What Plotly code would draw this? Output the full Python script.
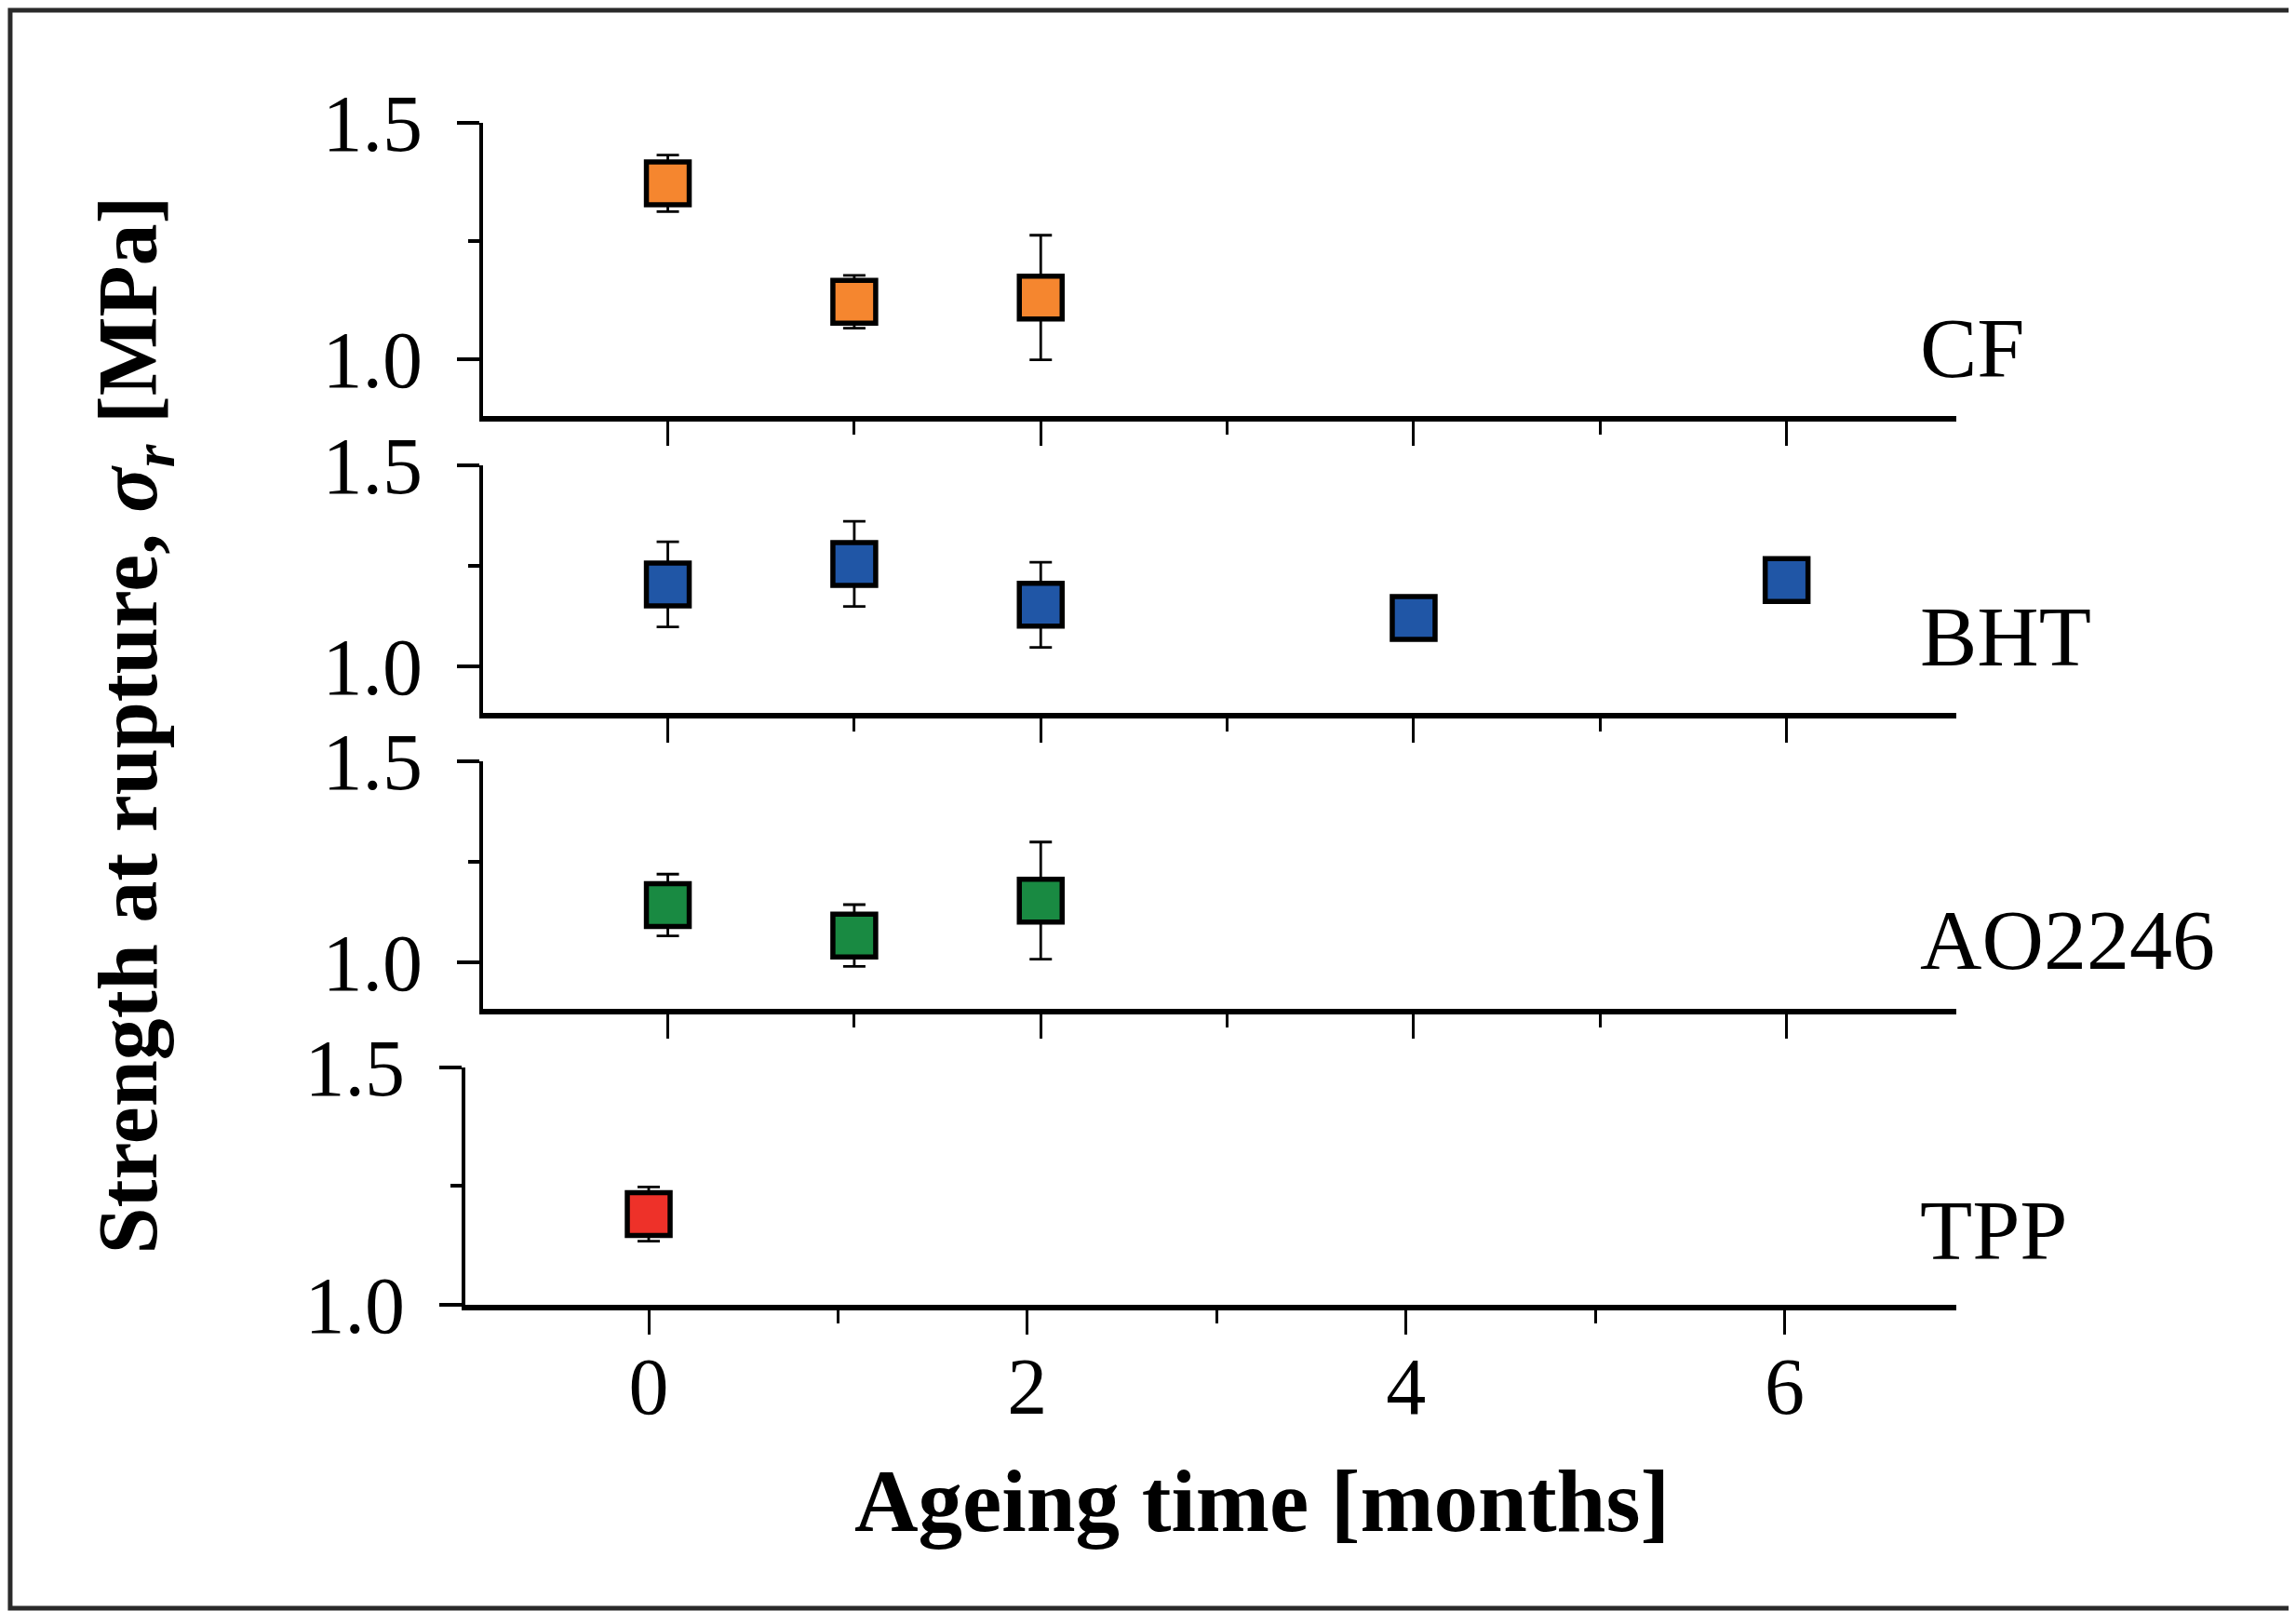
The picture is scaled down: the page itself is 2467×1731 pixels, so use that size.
import plotly.graph_objects as go

# values
cf_months = [0, 1, 2]
cf_strength = [1.372, 1.121, 1.130]
cf_error = [0.060, 0.056, 0.132]

bht_months = [0, 1, 2, 4, 6]
bht_strength = [1.204, 1.255, 1.153, 1.120, 1.215]
bht_error = [0.106, 0.106, 0.106, 0.015, 0.015]

ao_months = [0, 1, 2]
ao_strength = [1.142, 1.066, 1.153]
ao_error = [0.077, 0.077, 0.146]

tpp_months = [0]
tpp_strength = [1.191]
tpp_error = [0.057]

series_names = ["CF", "BHT", "AO2246", "TPP"]
x_tick_vals = [0, 2, 4, 6]
x_tick_labels = ["0", "2", "4", "6"]
y_tick_vals = [1.0, 1.5]
y_tick_labels = ["1.0", "1.5"]

COLORS = ["#F5862F", "#2056A6", "#198A42", "#EE3129"]
FONT = "Liberation Serif"
W, H = 2467, 1731
OFF = 8  # page body margin, the figure starts 8px in
FW, FH = W - OFF, H - OFF
S = W / 1568  # layout was measured on a 1568x1100 copy of the reference


def px(d):
    return (d * S - OFF) / FW


def py(d):
    return 1 - (d * S - OFF) / FH


# panel geometry (measured positions) and axis ranges
x_left = [330, 330, 330, 318]
x_right = 1336
y_top = [84, 318, 520, 729]
y_bottom = [284, 487, 689, 891]
x_ranges = [[-0.99, 6.91]] * 3 + [[-0.967, 6.907]]
y_ranges = [[0.879, 1.5], [0.883, 1.5], [0.883, 1.5], [1.0, 1.5]]
label_y = [238, 435, 642, 840]

data = [
    (cf_months, cf_strength, cf_error),
    (bht_months, bht_strength, bht_error),
    (ao_months, ao_strength, ao_error),
    (tpp_months, tpp_strength, tpp_error),
]

fig = go.Figure()

for i, (xs, ys, es) in enumerate(data):
    n = "" if i == 0 else str(i + 1)
    fig.add_trace(
        go.Scatter(
            x=xs,
            y=ys,
            mode="markers",
            name=series_names[i],
            xaxis="x" + n,
            yaxis="y" + n,
            marker=dict(
                symbol="square",
                size=46,
                color=COLORS[i],
                line=dict(color="black", width=5.5),
            ),
            error_y=dict(
                type="data",
                array=es,
                visible=True,
                color="black",
                thickness=2.8,
                width=12,
            ),
            cliponaxis=False,
            showlegend=False,
        )
    )

    last = i == 3
    fig.layout["xaxis" + n] = dict(
        domain=[px(x_left[i]), px(x_right)],
        range=x_ranges[i],
        anchor="y" + n,
        automargin=False,
        showgrid=False,
        zeroline=False,
        showline=True,
        linecolor="black",
        linewidth=6,
        ticks="outside",
        tickvals=x_tick_vals,
        ticktext=x_tick_labels,
        ticklen=26,
        tickwidth=3,
        tickcolor="black",
        minor=dict(
            ticks="outside",
            tickvals=[1, 3, 5],
            ticklen=14,
            tickwidth=3,
            tickcolor="black",
        ),
        showticklabels=last,
        ticklabelstandoff=-18,
        tickfont=dict(family=FONT, size=86, color="black"),
    )
    fig.layout["yaxis" + n] = dict(
        domain=[py(y_bottom[i]), py(y_top[i])],
        range=y_ranges[i],
        anchor="x" + n,
        automargin=False,
        showgrid=False,
        zeroline=False,
        showline=True,
        linecolor="black",
        linewidth=4,
        ticks="outside",
        tickvals=y_tick_vals,
        ticktext=y_tick_labels,
        ticklen=24,
        tickwidth=4,
        tickcolor="black",
        minor=dict(
            ticks="outside",
            tickvals=[1.25],
            ticklen=12,
            tickwidth=4,
            tickcolor="black",
        ),
        ticklabelstandoff=20,
        tickfont=dict(family=FONT, size=86, color="black"),
    )

    fig.add_annotation(
        text=series_names[i],
        x=px(1310),
        y=py(label_y[i]),
        xref="paper",
        yref="paper",
        xanchor="left",
        yanchor="middle",
        showarrow=False,
        font=dict(family=FONT, size=92, color="black"),
    )

fig.add_annotation(
    text="<b>Strength at rupture, <i>σ</i><sub><i>r</i></sub> [MPa]</b>",
    x=px(92),
    y=py(495),
    xref="paper",
    yref="paper",
    xanchor="center",
    yanchor="middle",
    textangle=-90,
    showarrow=False,
    font=dict(family=FONT, size=90, color="black"),
)
fig.add_annotation(
    text="<b>Ageing time [months]</b>",
    x=px(862),
    y=py(1025),
    xref="paper",
    yref="paper",
    xanchor="center",
    yanchor="middle",
    showarrow=False,
    font=dict(family=FONT, size=95, color="black"),
)

# thin dark frame around the whole figure
fig.add_shape(
    type="rect",
    xref="paper",
    yref="paper",
    x0=0.0012,
    y0=0.0018,
    x1=0.9988,
    y1=0.9982,
    line=dict(color="#2a2a2a", width=5),
)

fig.update_layout(
    width=FW,
    height=FH,
    margin=dict(l=0, r=0, t=0, b=0, pad=0),
    paper_bgcolor="white",
    plot_bgcolor="white",
)

fig.write_html("out.html")
